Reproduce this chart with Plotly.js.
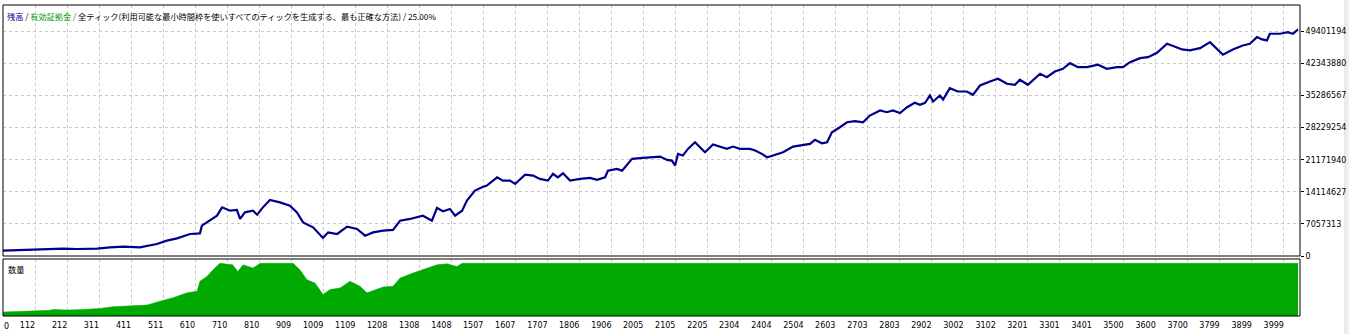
<!DOCTYPE html>
<html>
<head>
<meta charset="utf-8">
<script src="https://cdn.plot.ly/plotly-3.0.1.min.js"></script>
<style>
html,body{margin:0;padding:0;background:#fff;}
#chart{width:1349px;height:334px;}
</style>
</head>
<body>
<div id="chart"></div>
<script>
// ---- data ----
const tradeIdx = [12,65,105,158,199,242,305,345,386,438,491,522,554,594,625,631,656,678,694,719,740,750,765,790,803,821,843,874,905,927,946,977,1008,1024,1052,1083,1114,1139,1164,1195,1226,1248,1279,1319,1347,1363,1382,1403,1419,1441,1456,1481,1503,1518,1550,1568,1590,1606,1637,1662,1683,1708,1724,1739,1755,1777,1808,1839,1861,1886,1895,1923,1939,1970,2004,2026,2057,2079,2094,2104,2113,2128,2144,2166,2181,2197,2222,2244,2265,2284,2306,2337,2353,2374,2390,2399,2440,2471,2502,2524,2539,2561,2577,2592,2617,2639,2664,2689,2710,2742,2763,2782,2804,2826,2850,2866,2882,2897,2907,2928,2938,2959,2984,3012,3031,3053,3084,3109,3137,3162,3177,3202,3240,3261,3286,3311,3333,3358,3386,3420,3448,3479,3498,3520,3551,3576,3604,3635,3650,3682,3706,3738,3769,3790,3809,3840,3871,3893,3915,3931,3946,3955,3987,4011,4027,4043];
const balance = [1170000,1320000,1390000,1540000,1610000,1540000,1610000,1890000,2050000,1890000,2640000,3370000,3880000,4840000,4980000,6670000,7770000,8870000,10700000,9970000,10130000,8150000,9600000,9970000,9090000,10700000,12330000,11800000,11080000,9600000,7400000,6300000,3960000,5200000,4840000,6450000,5950000,4470000,5200000,5570000,5730000,7770000,8150000,8870000,7770000,10570000,9820000,10350000,8870000,9970000,12180000,14380000,15110000,15480000,17310000,16580000,16580000,15850000,17900000,17680000,16950000,16580000,18060000,17310000,18190000,16580000,16950000,17180000,16740000,17310000,18780000,19160000,18780000,21360000,21580000,21710000,21870000,21140000,20980000,19880000,22460000,22090000,23560000,25010000,23910000,22810000,24510000,24070000,23560000,24070000,23560000,23560000,23190000,22460000,21710000,21870000,22810000,24070000,24510000,24660000,25540000,24790000,25010000,27220000,28320000,29420000,29640000,29420000,30890000,32000000,31620000,32000000,31440000,32720000,33690000,33250000,33690000,35300000,33980000,35300000,34420000,36910000,36180000,36180000,35450000,37500000,38380000,38980000,37870000,37650000,38760000,37650000,40080000,39330000,40580000,41180000,42410000,41530000,41530000,42060000,41180000,41530000,41530000,42630000,43510000,43730000,44700000,46680000,46310000,45430000,45210000,45710000,47030000,45580000,44260000,45430000,46310000,46680000,48140000,47630000,47410000,48880000,48880000,49240000,48880000,49830000];

const volIdx = [12,65,105,158,168,211,261,314,354,417,460,501,541,585,616,625,647,666,687,727,743,759,790,812,915,936,958,983,1008,1030,1061,1092,1123,1145,1195,1226,1248,1288,1319,1363,1394,1425,1441,4043];
const volLots = [7.5,8.8,9.4,10.7,12.5,11.3,12.5,14.4,17.7,18.8,20.7,28.2,34.6,43.9,47.0,65.8,75.2,87.7,100,97.1,84.6,97.1,90.9,100,100,87.7,68.9,62.7,40.7,50.1,53.3,65.8,56.4,43.9,55.0,56.4,72.0,81.5,87.7,97.1,99.0,94.0,100,100];

const xTicks = [0,112,212,311,411,511,610,710,810,909,1009,1109,1208,1308,1408,1507,1607,1707,1806,1906,2005,2105,2205,2304,2404,2504,2603,2703,2803,2902,3002,3102,3201,3301,3401,3500,3600,3700,3799,3899,3999];
const yTicks = [0,7057313,14114627,21171940,28229254,35286567,42343880,49401194];

const titleParts = ["残高", "有効証拠金", "全ティック(利用可能な最小時間枠を使いすべてのティックを生成する、最も正確な方法)", "25.00%"];
const volLabel = "数量";

// ---- styling ----
const tickFont = {family: "Tahoma, 'DejaVu Sans', sans-serif", size: 8, color: "#000"};
const gridStyle = {showgrid: true, gridcolor: "#c8c8c8", griddash: "3px,3px", gridwidth: 1, zeroline: false};

const traces = [
  {
    x: tradeIdx, y: balance, type: "scatter", mode: "lines",
    xaxis: "x2", yaxis: "y",
    line: {color: "#00008b", width: 2.2}, hoverinfo: "skip"
  },
  {
    x: volIdx, y: volLots, type: "scatter", mode: "lines",
    xaxis: "x", yaxis: "y2",
    fill: "tozeroy", fillcolor: "#00aa00",
    line: {color: "#00aa00", width: 0.5}, hoverinfo: "skip"
  }
];

const titleText =
  '<span style="color:#00008b">' + titleParts[0] + ' / </span>' +
  '<span style="color:#009a00">' + titleParts[1] + ' / </span>' +
  '<span style="color:#000">' + titleParts[2] + ' / ' + titleParts[3] + '</span>';

const layout = {
  width: 1349, height: 334,
  margin: {l: 3, r: 49, t: 5, b: 18, pad: 0},
  paper_bgcolor: "#ffffff", plot_bgcolor: "#ffffff",
  showlegend: false,
  font: tickFont,
  xaxis: Object.assign({
    domain: [0, 1], anchor: "y2", range: [12, 4049],
    tickmode: "array", tickvals: xTicks, ticktext: xTicks.map(String),
    ticks: "", ticklabelposition: "outside left", ticklabelstandoff: 3,
    tickfont: tickFont, showline: false
  }, gridStyle),
  xaxis2: Object.assign({
    domain: [0, 1], anchor: "y", matches: "x", range: [12, 4049],
    tickmode: "array", tickvals: xTicks, showticklabels: false, ticks: "", showline: false
  }, gridStyle),
  yaxis: Object.assign({
    domain: [0.1929, 1], anchor: "x2", side: "right", range: [0, 55200000],
    tickmode: "array", tickvals: yTicks, ticktext: yTicks.map(String),
    ticks: "outside", ticklen: 3, tickwidth: 1, tickcolor: "#000",
    tickfont: tickFont, showline: false
  }, gridStyle),
  yaxis2: {
    domain: [0, 0.1833], anchor: "x", range: [0, 108.2],
    showgrid: false, zeroline: false, showticklabels: false, ticks: "", showline: false
  },
  shapes: [
    {type: "rect", xref: "x domain", yref: "y domain", x0: 0, x1: 1, y0: 0, y1: 1,
     line: {color: "#000", width: 1}, fillcolor: "rgba(0,0,0,0)", layer: "above"},
    {type: "rect", xref: "x domain", yref: "y2 domain", x0: 0, x1: 1, y0: 0, y1: 1,
     line: {color: "#000", width: 1}, fillcolor: "rgba(0,0,0,0)", layer: "above"},
    {type: "rect", xref: "paper", yref: "paper", x0: 1.0347, x1: 1.05, y0: -0.1, y1: 1.1,
     line: {color: "#d8d8d8", width: 1}, fillcolor: "#f0f0f0", layer: "below"}
  ],
  annotations: [
    {text: titleText, xref: "paper", yref: "paper", x: 0, y: 1, xanchor: "left", yanchor: "top",
     xshift: 2, yshift: -3, showarrow: false,
     font: {family: "'Noto Sans CJK JP', sans-serif", size: 8.2, color: "#000"}},
    {text: volLabel, xref: "paper", yref: "y2 domain", x: 0, y: 1, xanchor: "left", yanchor: "top",
     xshift: 3, yshift: -2, showarrow: false,
     font: {family: "'Noto Sans CJK JP', sans-serif", size: 8.2, color: "#000"}},
    {text: String(xTicks[0]), xref: "paper", yref: "paper", x: 0, y: 0, xanchor: "left", yanchor: "top",
     xshift: -1, yshift: -4, showarrow: false, font: tickFont}
  ]
};

Plotly.newPlot("chart", traces, layout, {staticPlot: true, displayModeBar: false});
</script>
</body>
</html>
